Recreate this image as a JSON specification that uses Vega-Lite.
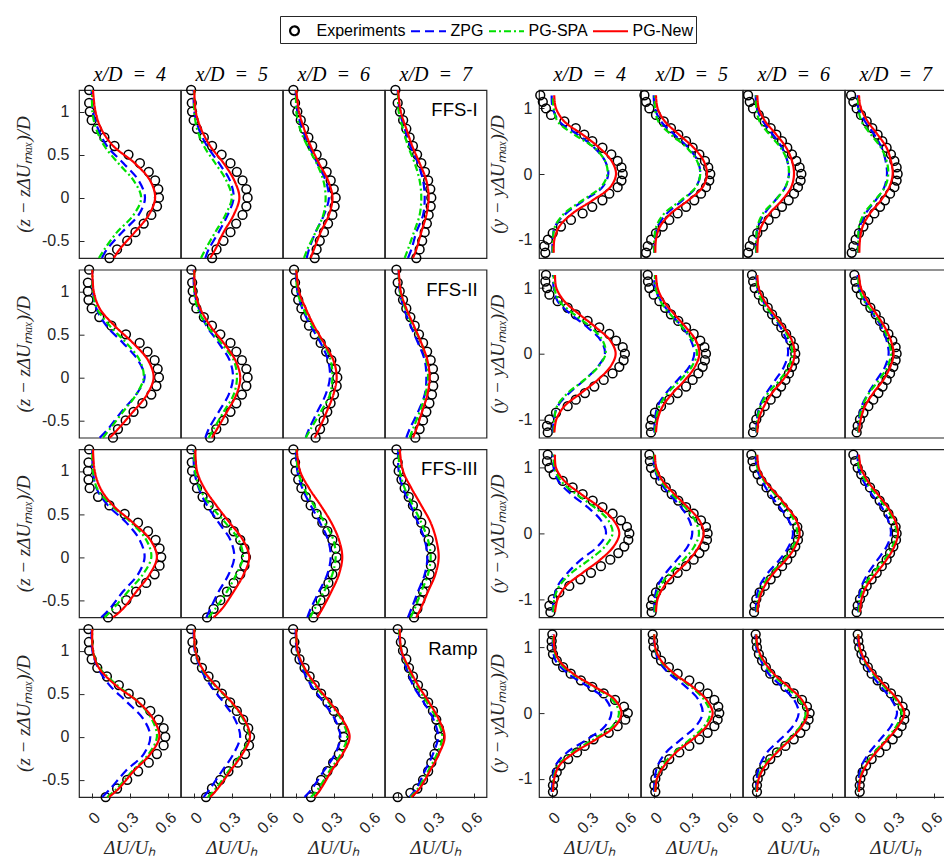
{
"$schema":"https://vega.github.io/schema/vega-lite/v6.json",
"background":"white",
"padding":{"left":14,"top":15,"right":0,"bottom":0},
"config":{
 "font":"Liberation Sans",
 "view":{"stroke":"#262626","strokeWidth":1.2},
 "axis":{"grid":false,"domain":false,"ticks":true,"tickColor":"#262626","tickSize":-5,"tickWidth":1,"labelFont":"Liberation Sans","labelFontSize":16,"labelColor":"#262626","titleFont":"Liberation Serif","titleFontStyle":"italic","titleFontWeight":"normal","titleFontSize":19,"titleColor":"#262626"},
 "axisY":{"labelPadding":15,"titlePadding":5},
 "axisX":{"labelPadding":16,"labelAngle":-45,"titlePadding":2},
 "legend":{"orient":"none","legendX":201,"legendY":-74,"direction":"horizontal","strokeColor":"#262626","padding":3,"fillColor":"white","labelFont":"Liberation Sans","labelFontSize":16,"labelColor":"#000","symbolSize":400,"symbolStrokeWidth":2.2,"labelOffset":10.5,"columnPadding":0}
},
"data":{"values":[
{"b":"L","r":1,"c":7,"lab":"FFS-I"},{"b":"L","r":2,"c":7,"lab":"FFS-II"},{"b":"L","r":3,"c":7,"lab":"FFS-III"},{"b":"L","r":4,"c":7,"lab":"Ramp"},
{"b":"L","r":1,"c":4,"v":1.25,"E":-0.02,"Z":0,"S":0.005,"N":0.01},
{"b":"L","r":1,"c":4,"v":1.1,"E":-0.02},
{"b":"L","r":1,"c":4,"v":1,"E":-0.015,"Z":0.01,"S":0.005,"N":0.03},
{"b":"L","r":1,"c":4,"v":0.9,"E":0},
{"b":"L","r":1,"c":4,"v":0.8,"E":0.04,"Z":0.05,"S":0.035,"N":0.075},
{"b":"L","r":1,"c":4,"v":0.7,"E":0.1},
{"b":"L","r":1,"c":4,"v":0.6,"E":0.18,"Z":0.12,"S":0.1,"N":0.17},
{"b":"L","r":1,"c":4,"v":0.5,"E":0.29},
{"b":"L","r":1,"c":4,"v":0.4,"E":0.38,"Z":0.25,"S":0.21,"N":0.34},
{"b":"L","r":1,"c":4,"v":0.3,"E":0.45},
{"b":"L","r":1,"c":4,"v":0.2,"E":0.5,"Z":0.37,"S":0.33,"N":0.46},
{"b":"L","r":1,"c":4,"v":0.1,"E":0.525},
{"b":"L","r":1,"c":4,"v":0,"E":0.53,"Z":0.42,"S":0.39,"N":0.5},
{"b":"L","r":1,"c":4,"v":-0.1,"E":0.515},
{"b":"L","r":1,"c":4,"v":-0.2,"E":0.47,"Z":0.37,"S":0.33,"N":0.45},
{"b":"L","r":1,"c":4,"v":-0.3,"E":0.41},
{"b":"L","r":1,"c":4,"v":-0.4,"E":0.345,"Z":0.24,"S":0.2,"N":0.34},
{"b":"L","r":1,"c":4,"v":-0.5,"E":0.28},
{"b":"L","r":1,"c":4,"v":-0.6,"E":0.2,"Z":0.12,"S":0.1,"N":0.22},
{"b":"L","r":1,"c":4,"v":-0.7,"E":0.14,"Z":0.08,"S":0.057,"N":0.175},
{"b":"L","r":1,"c":5,"v":1.25,"E":-0.02,"Z":0,"S":0.005,"N":0.005},
{"b":"L","r":1,"c":5,"v":1.1,"E":-0.015},
{"b":"L","r":1,"c":5,"v":1,"E":-0.013,"Z":0.005,"S":0.005,"N":0.016},
{"b":"L","r":1,"c":5,"v":0.9,"E":0},
{"b":"L","r":1,"c":5,"v":0.8,"E":0.026,"Z":0.04,"S":0.026,"N":0.058},
{"b":"L","r":1,"c":5,"v":0.7,"E":0.08},
{"b":"L","r":1,"c":5,"v":0.6,"E":0.145,"Z":0.105,"S":0.08,"N":0.13},
{"b":"L","r":1,"c":5,"v":0.5,"E":0.22},
{"b":"L","r":1,"c":5,"v":0.4,"E":0.29,"Z":0.2,"S":0.17,"N":0.236},
{"b":"L","r":1,"c":5,"v":0.3,"E":0.34},
{"b":"L","r":1,"c":5,"v":0.2,"E":0.385,"Z":0.285,"S":0.257,"N":0.32},
{"b":"L","r":1,"c":5,"v":0.1,"E":0.415},
{"b":"L","r":1,"c":5,"v":0,"E":0.425,"Z":0.315,"S":0.3,"N":0.36},
{"b":"L","r":1,"c":5,"v":-0.1,"E":0.415},
{"b":"L","r":1,"c":5,"v":-0.2,"E":0.385,"Z":0.268,"S":0.25,"N":0.315},
{"b":"L","r":1,"c":5,"v":-0.3,"E":0.335},
{"b":"L","r":1,"c":5,"v":-0.4,"E":0.29,"Z":0.197,"S":0.17,"N":0.236},
{"b":"L","r":1,"c":5,"v":-0.5,"E":0.235},
{"b":"L","r":1,"c":5,"v":-0.6,"E":0.18,"Z":0.118,"S":0.092,"N":0.17},
{"b":"L","r":1,"c":5,"v":-0.7,"E":0.145,"Z":0.092,"S":0.058,"N":0.13},
{"b":"L","r":1,"c":6,"v":1.25,"E":-0.018,"Z":0,"S":0.005,"N":0.005},
{"b":"L","r":1,"c":6,"v":1.1,"E":-0.005},
{"b":"L","r":1,"c":6,"v":1,"E":0.013,"Z":0.013,"S":0.005,"N":0.026},
{"b":"L","r":1,"c":6,"v":0.9,"E":0.04},
{"b":"L","r":1,"c":6,"v":0.8,"E":0.066,"Z":0.052,"S":0.034,"N":0.066},
{"b":"L","r":1,"c":6,"v":0.7,"E":0.1},
{"b":"L","r":1,"c":6,"v":0.6,"E":0.13,"Z":0.105,"S":0.092,"N":0.118},
{"b":"L","r":1,"c":6,"v":0.5,"E":0.165},
{"b":"L","r":1,"c":6,"v":0.4,"E":0.21,"Z":0.17,"S":0.165,"N":0.184},
{"b":"L","r":1,"c":6,"v":0.3,"E":0.244},
{"b":"L","r":1,"c":6,"v":0.2,"E":0.276,"Z":0.236,"S":0.218,"N":0.255},
{"b":"L","r":1,"c":6,"v":0.1,"E":0.3},
{"b":"L","r":1,"c":6,"v":0,"E":0.315,"Z":0.262,"S":0.236,"N":0.29},
{"b":"L","r":1,"c":6,"v":-0.1,"E":0.307},
{"b":"L","r":1,"c":6,"v":-0.2,"E":0.289,"Z":0.223,"S":0.218,"N":0.262},
{"b":"L","r":1,"c":6,"v":-0.3,"E":0.255},
{"b":"L","r":1,"c":6,"v":-0.4,"E":0.223,"Z":0.157,"S":0.157,"N":0.197},
{"b":"L","r":1,"c":6,"v":-0.5,"E":0.19},
{"b":"L","r":1,"c":6,"v":-0.6,"E":0.165,"Z":0.105,"S":0.092,"N":0.144},
{"b":"L","r":1,"c":6,"v":-0.7,"E":0.15,"Z":0.087,"S":0.066,"N":0.118},
{"b":"L","r":1,"c":7,"v":1.25,"E":-0.018,"Z":0,"S":0.003,"N":0.003},
{"b":"L","r":1,"c":7,"v":1.1,"E":0},
{"b":"L","r":1,"c":7,"v":1,"E":0.018,"Z":0.016,"S":0.008,"N":0.024},
{"b":"L","r":1,"c":7,"v":0.9,"E":0.043},
{"b":"L","r":1,"c":7,"v":0.8,"E":0.068,"Z":0.055,"S":0.042,"N":0.068},
{"b":"L","r":1,"c":7,"v":0.7,"E":0.094},
{"b":"L","r":1,"c":7,"v":0.6,"E":0.12,"Z":0.1,"S":0.081,"N":0.115},
{"b":"L","r":1,"c":7,"v":0.5,"E":0.153},
{"b":"L","r":1,"c":7,"v":0.4,"E":0.186,"Z":0.16,"S":0.134,"N":0.173},
{"b":"L","r":1,"c":7,"v":0.3,"E":0.215},
{"b":"L","r":1,"c":7,"v":0.2,"E":0.24,"Z":0.2,"S":0.173,"N":0.226},
{"b":"L","r":1,"c":7,"v":0.1,"E":0.257},
{"b":"L","r":1,"c":7,"v":0,"E":0.265,"Z":0.213,"S":0.186,"N":0.244},
{"b":"L","r":1,"c":7,"v":-0.1,"E":0.26},
{"b":"L","r":1,"c":7,"v":-0.2,"E":0.244,"Z":0.2,"S":0.173,"N":0.226},
{"b":"L","r":1,"c":7,"v":-0.3,"E":0.23},
{"b":"L","r":1,"c":7,"v":-0.4,"E":0.213,"Z":0.147,"S":0.128,"N":0.186},
{"b":"L","r":1,"c":7,"v":-0.5,"E":0.193},
{"b":"L","r":1,"c":7,"v":-0.6,"E":0.173,"Z":0.108,"S":0.081,"N":0.147},
{"b":"L","r":1,"c":7,"v":-0.7,"E":0.147,"Z":0.081,"S":0.055,"N":0.12},
{"b":"L","r":2,"c":4,"v":1.25,"E":-0.02,"Z":0.005,"S":0.005,"N":0.005},
{"b":"L","r":2,"c":4,"v":1.1,"E":-0.03},
{"b":"L","r":2,"c":4,"v":1,"E":-0.03,"Z":0.01,"S":0.01,"N":0.016},
{"b":"L","r":2,"c":4,"v":0.9,"E":-0.025},
{"b":"L","r":2,"c":4,"v":0.8,"E":0,"Z":0.037,"S":0.042,"N":0.063},
{"b":"L","r":2,"c":4,"v":0.7,"E":0.06},
{"b":"L","r":2,"c":4,"v":0.6,"E":0.155,"Z":0.115,"S":0.142,"N":0.18},
{"b":"L","r":2,"c":4,"v":0.5,"E":0.27},
{"b":"L","r":2,"c":4,"v":0.4,"E":0.378,"Z":0.247,"S":0.273,"N":0.325},
{"b":"L","r":2,"c":4,"v":0.3,"E":0.44},
{"b":"L","r":2,"c":4,"v":0.2,"E":0.496,"Z":0.365,"S":0.378,"N":0.444},
{"b":"L","r":2,"c":4,"v":0.1,"E":0.52},
{"b":"L","r":2,"c":4,"v":0,"E":0.53,"Z":0.417,"S":0.41,"N":0.488},
{"b":"L","r":2,"c":4,"v":-0.1,"E":0.51},
{"b":"L","r":2,"c":4,"v":-0.2,"E":0.47,"Z":0.35,"S":0.35,"N":0.436},
{"b":"L","r":2,"c":4,"v":-0.3,"E":0.4},
{"b":"L","r":2,"c":4,"v":-0.4,"E":0.33,"Z":0.234,"S":0.247,"N":0.325},
{"b":"L","r":2,"c":4,"v":-0.5,"E":0.268},
{"b":"L","r":2,"c":4,"v":-0.6,"E":0.207,"Z":0.128,"S":0.142,"N":0.207},
{"b":"L","r":2,"c":4,"v":-0.7,"E":0.168,"Z":0.063,"S":0.089,"N":0.142},
{"b":"L","r":2,"c":5,"v":1.25,"E":-0.018,"Z":0,"S":0.005,"N":0.005},
{"b":"L","r":2,"c":5,"v":1.1,"E":-0.012},
{"b":"L","r":2,"c":5,"v":1,"E":-0.008,"Z":0.005,"S":0.005,"N":0.013},
{"b":"L","r":2,"c":5,"v":0.9,"E":0},
{"b":"L","r":2,"c":5,"v":0.8,"E":0.021,"Z":0.04,"S":0.031,"N":0.052},
{"b":"L","r":2,"c":5,"v":0.7,"E":0.08},
{"b":"L","r":2,"c":5,"v":0.6,"E":0.144,"Z":0.1,"S":0.105,"N":0.13},
{"b":"L","r":2,"c":5,"v":0.5,"E":0.21},
{"b":"L","r":2,"c":5,"v":0.4,"E":0.29,"Z":0.197,"S":0.215,"N":0.236},
{"b":"L","r":2,"c":5,"v":0.3,"E":0.336},
{"b":"L","r":2,"c":5,"v":0.2,"E":0.38,"Z":0.283,"S":0.315,"N":0.328},
{"b":"L","r":2,"c":5,"v":0.1,"E":0.415},
{"b":"L","r":2,"c":5,"v":0,"E":0.425,"Z":0.31,"S":0.341,"N":0.367},
{"b":"L","r":2,"c":5,"v":-0.1,"E":0.415},
{"b":"L","r":2,"c":5,"v":-0.2,"E":0.38,"Z":0.276,"S":0.315,"N":0.336},
{"b":"L","r":2,"c":5,"v":-0.3,"E":0.336},
{"b":"L","r":2,"c":5,"v":-0.4,"E":0.29,"Z":0.197,"S":0.236,"N":0.262},
{"b":"L","r":2,"c":5,"v":-0.5,"E":0.236},
{"b":"L","r":2,"c":5,"v":-0.6,"E":0.178,"Z":0.118,"S":0.157,"N":0.184},
{"b":"L","r":2,"c":5,"v":-0.7,"E":0.13,"Z":0.092,"S":0.118,"N":0.144},
{"b":"L","r":2,"c":6,"v":1.25,"E":-0.013,"Z":0,"S":0.005,"N":0.005},
{"b":"L","r":2,"c":6,"v":1.1,"E":-0.005},
{"b":"L","r":2,"c":6,"v":1,"E":0.003,"Z":0.013,"S":0.013,"N":0.026},
{"b":"L","r":2,"c":6,"v":0.9,"E":0.02},
{"b":"L","r":2,"c":6,"v":0.8,"E":0.045,"Z":0.052,"S":0.06,"N":0.079},
{"b":"L","r":2,"c":6,"v":0.7,"E":0.075},
{"b":"L","r":2,"c":6,"v":0.6,"E":0.105,"Z":0.118,"S":0.131,"N":0.144},
{"b":"L","r":2,"c":6,"v":0.5,"E":0.15},
{"b":"L","r":2,"c":6,"v":0.4,"E":0.197,"Z":0.197,"S":0.218,"N":0.223},
{"b":"L","r":2,"c":6,"v":0.3,"E":0.24},
{"b":"L","r":2,"c":6,"v":0.2,"E":0.281,"Z":0.255,"S":0.276,"N":0.297},
{"b":"L","r":2,"c":6,"v":0.1,"E":0.315},
{"b":"L","r":2,"c":6,"v":0,"E":0.328,"Z":0.27,"S":0.289,"N":0.323},
{"b":"L","r":2,"c":6,"v":-0.1,"E":0.323},
{"b":"L","r":2,"c":6,"v":-0.2,"E":0.302,"Z":0.236,"S":0.27,"N":0.297},
{"b":"L","r":2,"c":6,"v":-0.3,"E":0.275},
{"b":"L","r":2,"c":6,"v":-0.4,"E":0.249,"Z":0.17,"S":0.197,"N":0.244},
{"b":"L","r":2,"c":6,"v":-0.5,"E":0.22},
{"b":"L","r":2,"c":6,"v":-0.6,"E":0.192,"Z":0.105,"S":0.118,"N":0.184},
{"b":"L","r":2,"c":6,"v":-0.7,"E":0.157,"Z":0.079,"S":0.079,"N":0.15},
{"b":"L","r":2,"c":7,"v":1.25,"E":-0.01,"Z":0.008,"S":0.008,"N":0.008},
{"b":"L","r":2,"c":7,"v":1.1,"E":0},
{"b":"L","r":2,"c":7,"v":1,"E":0.016,"Z":0.016,"S":0.018,"N":0.024},
{"b":"L","r":2,"c":7,"v":0.9,"E":0.042},
{"b":"L","r":2,"c":7,"v":0.8,"E":0.068,"Z":0.05,"S":0.06,"N":0.068},
{"b":"L","r":2,"c":7,"v":0.7,"E":0.1},
{"b":"L","r":2,"c":7,"v":0.6,"E":0.134,"Z":0.102,"S":0.12,"N":0.128},
{"b":"L","r":2,"c":7,"v":0.5,"E":0.168},
{"b":"L","r":2,"c":7,"v":0.4,"E":0.2,"Z":0.16,"S":0.186,"N":0.186},
{"b":"L","r":2,"c":7,"v":0.3,"E":0.232},
{"b":"L","r":2,"c":7,"v":0.2,"E":0.26,"Z":0.213,"S":0.226,"N":0.234},
{"b":"L","r":2,"c":7,"v":0.1,"E":0.278},
{"b":"L","r":2,"c":7,"v":0,"E":0.286,"Z":0.226,"S":0.239,"N":0.252},
{"b":"L","r":2,"c":7,"v":-0.1,"E":0.28},
{"b":"L","r":2,"c":7,"v":-0.2,"E":0.27,"Z":0.213,"S":0.218,"N":0.234},
{"b":"L","r":2,"c":7,"v":-0.3,"E":0.25},
{"b":"L","r":2,"c":7,"v":-0.4,"E":0.226,"Z":0.16,"S":0.173,"N":0.192},
{"b":"L","r":2,"c":7,"v":-0.5,"E":0.2},
{"b":"L","r":2,"c":7,"v":-0.6,"E":0.173,"Z":0.094,"S":0.12,"N":0.147},
{"b":"L","r":2,"c":7,"v":-0.7,"E":0.139,"Z":0.068,"S":0.094,"N":0.12},
{"b":"L","r":3,"c":4,"v":1.25,"E":-0.02,"Z":0.005,"S":0.005,"N":0.01},
{"b":"L","r":3,"c":4,"v":1.1,"E":-0.025},
{"b":"L","r":3,"c":4,"v":1,"E":-0.03,"Z":0.01,"S":0.01,"N":0.024},
{"b":"L","r":3,"c":4,"v":0.9,"E":-0.025},
{"b":"L","r":3,"c":4,"v":0.8,"E":-0.016,"Z":0.037,"S":0.042,"N":0.068},
{"b":"L","r":3,"c":4,"v":0.7,"E":0.05},
{"b":"L","r":3,"c":4,"v":0.6,"E":0.14,"Z":0.128,"S":0.155,"N":0.168},
{"b":"L","r":3,"c":4,"v":0.5,"E":0.26},
{"b":"L","r":3,"c":4,"v":0.4,"E":0.365,"Z":0.273,"S":0.312,"N":0.325},
{"b":"L","r":3,"c":4,"v":0.3,"E":0.444},
{"b":"L","r":3,"c":4,"v":0.2,"E":0.504,"Z":0.378,"S":0.43,"N":0.462},
{"b":"L","r":3,"c":4,"v":0.1,"E":0.535},
{"b":"L","r":3,"c":4,"v":0,"E":0.548,"Z":0.417,"S":0.47,"N":0.514},
{"b":"L","r":3,"c":4,"v":-0.1,"E":0.535},
{"b":"L","r":3,"c":4,"v":-0.2,"E":0.496,"Z":0.365,"S":0.404,"N":0.457},
{"b":"L","r":3,"c":4,"v":-0.3,"E":0.43},
{"b":"L","r":3,"c":4,"v":-0.4,"E":0.35,"Z":0.247,"S":0.286,"N":0.352},
{"b":"L","r":3,"c":4,"v":-0.5,"E":0.273},
{"b":"L","r":3,"c":4,"v":-0.6,"E":0.194,"Z":0.142,"S":0.168,"N":0.247},
{"b":"L","r":3,"c":4,"v":-0.7,"E":0.129,"Z":0.076,"S":0.102,"N":0.168},
{"b":"L","r":3,"c":5,"v":1.25,"E":-0.018,"Z":0,"S":0.005,"N":0.013},
{"b":"L","r":3,"c":5,"v":1.1,"E":-0.015},
{"b":"L","r":3,"c":5,"v":1,"E":-0.013,"Z":0.005,"S":0.01,"N":0.026},
{"b":"L","r":3,"c":5,"v":0.9,"E":0.005},
{"b":"L","r":3,"c":5,"v":0.8,"E":0.026,"Z":0.04,"S":0.047,"N":0.084},
{"b":"L","r":3,"c":5,"v":0.7,"E":0.07},
{"b":"L","r":3,"c":5,"v":0.6,"E":0.118,"Z":0.105,"S":0.131,"N":0.178},
{"b":"L","r":3,"c":5,"v":0.5,"E":0.184},
{"b":"L","r":3,"c":5,"v":0.4,"E":0.257,"Z":0.197,"S":0.249,"N":0.283},
{"b":"L","r":3,"c":5,"v":0.3,"E":0.315},
{"b":"L","r":3,"c":5,"v":0.2,"E":0.367,"Z":0.289,"S":0.354,"N":0.388},
{"b":"L","r":3,"c":5,"v":0.1,"E":0.4},
{"b":"L","r":3,"c":5,"v":0,"E":0.412,"Z":0.32,"S":0.388,"N":0.438},
{"b":"L","r":3,"c":5,"v":-0.1,"E":0.4},
{"b":"L","r":3,"c":5,"v":-0.2,"E":0.367,"Z":0.276,"S":0.336,"N":0.394},
{"b":"L","r":3,"c":5,"v":-0.3,"E":0.315},
{"b":"L","r":3,"c":5,"v":-0.4,"E":0.262,"Z":0.197,"S":0.262,"N":0.315},
{"b":"L","r":3,"c":5,"v":-0.5,"E":0.21},
{"b":"L","r":3,"c":5,"v":-0.6,"E":0.157,"Z":0.131,"S":0.17,"N":0.223},
{"b":"L","r":3,"c":5,"v":-0.7,"E":0.105,"Z":0.1,"S":0.118,"N":0.157},
{"b":"L","r":3,"c":6,"v":1.25,"E":-0.018,"Z":0,"S":0.005,"N":0.008},
{"b":"L","r":3,"c":6,"v":1.1,"E":-0.005},
{"b":"L","r":3,"c":6,"v":1,"E":0,"Z":0.013,"S":0.018,"N":0.034},
{"b":"L","r":3,"c":6,"v":0.9,"E":0.02},
{"b":"L","r":3,"c":6,"v":0.8,"E":0.045,"Z":0.052,"S":0.066,"N":0.105},
{"b":"L","r":3,"c":6,"v":0.7,"E":0.08},
{"b":"L","r":3,"c":6,"v":0.6,"E":0.118,"Z":0.118,"S":0.144,"N":0.197},
{"b":"L","r":3,"c":6,"v":0.5,"E":0.165},
{"b":"L","r":3,"c":6,"v":0.4,"E":0.21,"Z":0.192,"S":0.228,"N":0.281},
{"b":"L","r":3,"c":6,"v":0.3,"E":0.25},
{"b":"L","r":3,"c":6,"v":0.2,"E":0.289,"Z":0.255,"S":0.297,"N":0.341},
{"b":"L","r":3,"c":6,"v":0.1,"E":0.315},
{"b":"L","r":3,"c":6,"v":0,"E":0.323,"Z":0.276,"S":0.315,"N":0.367},
{"b":"L","r":3,"c":6,"v":-0.1,"E":0.315},
{"b":"L","r":3,"c":6,"v":-0.2,"E":0.289,"Z":0.249,"S":0.289,"N":0.341},
{"b":"L","r":3,"c":6,"v":-0.3,"E":0.258},
{"b":"L","r":3,"c":6,"v":-0.4,"E":0.228,"Z":0.184,"S":0.223,"N":0.281},
{"b":"L","r":3,"c":6,"v":-0.5,"E":0.196},
{"b":"L","r":3,"c":6,"v":-0.6,"E":0.165,"Z":0.118,"S":0.15,"N":0.21},
{"b":"L","r":3,"c":6,"v":-0.7,"E":0.139,"Z":0.092,"S":0.113,"N":0.17},
{"b":"L","r":3,"c":7,"v":1.25,"E":-0.01,"Z":0.003,"S":0.008,"N":0.016},
{"b":"L","r":3,"c":7,"v":1.1,"E":0},
{"b":"L","r":3,"c":7,"v":1,"E":0.008,"Z":0.008,"S":0.016,"N":0.042},
{"b":"L","r":3,"c":7,"v":0.9,"E":0.03},
{"b":"L","r":3,"c":7,"v":0.8,"E":0.055,"Z":0.042,"S":0.055,"N":0.108},
{"b":"L","r":3,"c":7,"v":0.7,"E":0.087},
{"b":"L","r":3,"c":7,"v":0.6,"E":0.12,"Z":0.102,"S":0.12,"N":0.186},
{"b":"L","r":3,"c":7,"v":0.5,"E":0.153},
{"b":"L","r":3,"c":7,"v":0.4,"E":0.186,"Z":0.16,"S":0.186,"N":0.26},
{"b":"L","r":3,"c":7,"v":0.3,"E":0.215},
{"b":"L","r":3,"c":7,"v":0.2,"E":0.244,"Z":0.213,"S":0.239,"N":0.304},
{"b":"L","r":3,"c":7,"v":0.1,"E":0.26},
{"b":"L","r":3,"c":7,"v":0,"E":0.265,"Z":0.234,"S":0.26,"N":0.323},
{"b":"L","r":3,"c":7,"v":-0.1,"E":0.262},
{"b":"L","r":3,"c":7,"v":-0.2,"E":0.252,"Z":0.213,"S":0.239,"N":0.297},
{"b":"L","r":3,"c":7,"v":-0.3,"E":0.228},
{"b":"L","r":3,"c":7,"v":-0.4,"E":0.2,"Z":0.16,"S":0.186,"N":0.239},
{"b":"L","r":3,"c":7,"v":-0.5,"E":0.178},
{"b":"L","r":3,"c":7,"v":-0.6,"E":0.155,"Z":0.108,"S":0.134,"N":0.181},
{"b":"L","r":3,"c":7,"v":-0.7,"E":0.129,"Z":0.081,"S":0.102,"N":0.147},
{"b":"L","r":4,"c":4,"v":1.25,"E":-0.026,"Z":0,"S":0.005,"N":0.005},
{"b":"L","r":4,"c":4,"v":1.1,"E":-0.022},
{"b":"L","r":4,"c":4,"v":1,"E":-0.02,"Z":0.005,"S":0.01,"N":0.01},
{"b":"L","r":4,"c":4,"v":0.9,"E":0},
{"b":"L","r":4,"c":4,"v":0.8,"E":0.044,"Z":0.05,"S":0.063,"N":0.057},
{"b":"L","r":4,"c":4,"v":0.7,"E":0.12},
{"b":"L","r":4,"c":4,"v":0.6,"E":0.214,"Z":0.14,"S":0.2,"N":0.188},
{"b":"L","r":4,"c":4,"v":0.5,"E":0.292},
{"b":"L","r":4,"c":4,"v":0.4,"E":0.384,"Z":0.28,"S":0.37,"N":0.37},
{"b":"L","r":4,"c":4,"v":0.3,"E":0.462},
{"b":"L","r":4,"c":4,"v":0.2,"E":0.527,"Z":0.41,"S":0.475,"N":0.488},
{"b":"L","r":4,"c":4,"v":0.1,"E":0.567},
{"b":"L","r":4,"c":4,"v":0,"E":0.58,"Z":0.462,"S":0.514,"N":0.533},
{"b":"L","r":4,"c":4,"v":-0.1,"E":0.567},
{"b":"L","r":4,"c":4,"v":-0.2,"E":0.514,"Z":0.41,"S":0.449,"N":0.462},
{"b":"L","r":4,"c":4,"v":-0.3,"E":0.45},
{"b":"L","r":4,"c":4,"v":-0.4,"E":0.366,"Z":0.266,"S":0.318,"N":0.33},
{"b":"L","r":4,"c":4,"v":-0.5,"E":0.28},
{"b":"L","r":4,"c":4,"v":-0.6,"E":0.2,"Z":0.149,"S":0.2,"N":0.214},
{"b":"L","r":4,"c":4,"v":-0.7,"E":0.11,"Z":0.084,"S":0.123,"N":0.136},
{"b":"L","r":4,"c":5,"v":1.25,"E":-0.02,"Z":0,"S":0.005,"N":0.005},
{"b":"L","r":4,"c":5,"v":1.1,"E":-0.01},
{"b":"L","r":4,"c":5,"v":1,"E":-0.005,"Z":0.008,"S":0.013,"N":0.013},
{"b":"L","r":4,"c":5,"v":0.9,"E":0.013},
{"b":"L","r":4,"c":5,"v":0.8,"E":0.065,"Z":0.052,"S":0.06,"N":0.065},
{"b":"L","r":4,"c":5,"v":0.7,"E":0.117},
{"b":"L","r":4,"c":5,"v":0.6,"E":0.17,"Z":0.13,"S":0.164,"N":0.17},
{"b":"L","r":4,"c":5,"v":0.5,"E":0.222},
{"b":"L","r":4,"c":5,"v":0.4,"E":0.287,"Z":0.235,"S":0.295,"N":0.3},
{"b":"L","r":4,"c":5,"v":0.3,"E":0.34},
{"b":"L","r":4,"c":5,"v":0.2,"E":0.39,"Z":0.326,"S":0.392,"N":0.4},
{"b":"L","r":4,"c":5,"v":0.1,"E":0.43},
{"b":"L","r":4,"c":5,"v":0,"E":0.444,"Z":0.366,"S":0.436,"N":0.444},
{"b":"L","r":4,"c":5,"v":-0.1,"E":0.436},
{"b":"L","r":4,"c":5,"v":-0.2,"E":0.405,"Z":0.313,"S":0.373,"N":0.384},
{"b":"L","r":4,"c":5,"v":-0.3,"E":0.347},
{"b":"L","r":4,"c":5,"v":-0.4,"E":0.274,"Z":0.222,"S":0.274,"N":0.287},
{"b":"L","r":4,"c":5,"v":-0.5,"E":0.209},
{"b":"L","r":4,"c":5,"v":-0.6,"E":0.144,"Z":0.13,"S":0.175,"N":0.19},
{"b":"L","r":4,"c":5,"v":-0.7,"E":0.097,"Z":0.078,"S":0.112,"N":0.13},
{"b":"L","r":4,"c":6,"v":1.25,"E":-0.02,"Z":0,"S":0.005,"N":0.005},
{"b":"L","r":4,"c":6,"v":1.1,"E":-0.01},
{"b":"L","r":4,"c":6,"v":1,"E":0,"Z":0.008,"S":0.012,"N":0.015},
{"b":"L","r":4,"c":6,"v":0.9,"E":0.03},
{"b":"L","r":4,"c":6,"v":0.8,"E":0.07,"Z":0.05,"S":0.065,"N":0.07},
{"b":"L","r":4,"c":6,"v":0.7,"E":0.11},
{"b":"L","r":4,"c":6,"v":0.6,"E":0.15,"Z":0.12,"S":0.15,"N":0.16},
{"b":"L","r":4,"c":6,"v":0.5,"E":0.2},
{"b":"L","r":4,"c":6,"v":0.4,"E":0.25,"Z":0.22,"S":0.26,"N":0.27},
{"b":"L","r":4,"c":6,"v":0.3,"E":0.3},
{"b":"L","r":4,"c":6,"v":0.2,"E":0.34,"Z":0.31,"S":0.36,"N":0.37},
{"b":"L","r":4,"c":6,"v":0.1,"E":0.37},
{"b":"L","r":4,"c":6,"v":0,"E":0.378,"Z":0.352,"S":0.405,"N":0.425},
{"b":"L","r":4,"c":6,"v":-0.1,"E":0.37},
{"b":"L","r":4,"c":6,"v":-0.2,"E":0.34,"Z":0.31,"S":0.355,"N":0.37},
{"b":"L","r":4,"c":6,"v":-0.3,"E":0.295},
{"b":"L","r":4,"c":6,"v":-0.4,"E":0.25,"Z":0.22,"S":0.265,"N":0.28},
{"b":"L","r":4,"c":6,"v":-0.5,"E":0.2},
{"b":"L","r":4,"c":6,"v":-0.6,"E":0.16,"Z":0.13,"S":0.18,"N":0.2},
{"b":"L","r":4,"c":6,"v":-0.7,"E":0.12,"Z":0.07,"S":0.12,"N":0.15},
{"b":"L","r":4,"c":7,"v":1.25,"E":0,"Z":0.005,"S":0.01,"N":0.016},
{"b":"L","r":4,"c":7,"v":1.1,"E":0.025},
{"b":"L","r":4,"c":7,"v":1,"E":0.042,"Z":0.028,"S":0.03,"N":0.03},
{"b":"L","r":4,"c":7,"v":0.9,"E":0.068},
{"b":"L","r":4,"c":7,"v":0.8,"E":0.089,"Z":0.068,"S":0.081,"N":0.089},
{"b":"L","r":4,"c":7,"v":0.7,"E":0.12},
{"b":"L","r":4,"c":7,"v":0.6,"E":0.16,"Z":0.12,"S":0.147,"N":0.16},
{"b":"L","r":4,"c":7,"v":0.5,"E":0.2},
{"b":"L","r":4,"c":7,"v":0.4,"E":0.24,"Z":0.205,"S":0.231,"N":0.247},
{"b":"L","r":4,"c":7,"v":0.3,"E":0.278},
{"b":"L","r":4,"c":7,"v":0.2,"E":0.304,"Z":0.283,"S":0.31,"N":0.325},
{"b":"L","r":4,"c":7,"v":0.1,"E":0.325},
{"b":"L","r":4,"c":7,"v":0,"E":0.33,"Z":0.318,"S":0.352,"N":0.37},
{"b":"L","r":4,"c":7,"v":-0.1,"E":0.318},
{"b":"L","r":4,"c":7,"v":-0.2,"E":0.29,"Z":0.278,"S":0.31,"N":0.325},
{"b":"L","r":4,"c":7,"v":-0.3,"E":0.265},
{"b":"L","r":4,"c":7,"v":-0.4,"E":0.24,"Z":0.213,"S":0.239,"N":0.252},
{"b":"L","r":4,"c":7,"v":-0.5,"E":0.2},
{"b":"L","r":4,"c":7,"v":-0.6,"E":0.155,"Z":0.147,"S":0.16,"N":0.173},
{"b":"L","r":4,"c":7,"v":-0.65,"E":0.1},
{"b":"L","r":4,"c":7,"v":-0.7,"E":0,"Z":0.094,"S":0.1,"N":0.108},
{"b":"R","r":1,"c":4,"v":1.2,"E":-0.09,"Z":0,"S":0.008,"N":0.02},
{"b":"R","r":1,"c":4,"v":1.1,"E":-0.07},
{"b":"R","r":1,"c":4,"v":1,"E":-0.045,"Z":0.008,"S":0.016,"N":0.034},
{"b":"R","r":1,"c":4,"v":0.9,"E":-0.005},
{"b":"R","r":1,"c":4,"v":0.8,"E":0.1,"Z":0.06,"S":0.047,"N":0.1},
{"b":"R","r":1,"c":4,"v":0.7,"E":0.19},
{"b":"R","r":1,"c":4,"v":0.6,"E":0.257,"Z":0.205,"S":0.178,"N":0.244},
{"b":"R","r":1,"c":4,"v":0.5,"E":0.32},
{"b":"R","r":1,"c":4,"v":0.4,"E":0.4,"Z":0.336,"S":0.336,"N":0.375},
{"b":"R","r":1,"c":4,"v":0.3,"E":0.47},
{"b":"R","r":1,"c":4,"v":0.2,"E":0.52,"Z":0.42,"S":0.42,"N":0.472},
{"b":"R","r":1,"c":4,"v":0.1,"E":0.55},
{"b":"R","r":1,"c":4,"v":0,"E":0.56,"Z":0.446,"S":0.44,"N":0.507},
{"b":"R","r":1,"c":4,"v":-0.1,"E":0.55},
{"b":"R","r":1,"c":4,"v":-0.2,"E":0.52,"Z":0.4,"S":0.388,"N":0.462},
{"b":"R","r":1,"c":4,"v":-0.3,"E":0.454},
{"b":"R","r":1,"c":4,"v":-0.4,"E":0.4,"Z":0.257,"S":0.244,"N":0.323},
{"b":"R","r":1,"c":4,"v":-0.5,"E":0.32},
{"b":"R","r":1,"c":4,"v":-0.6,"E":0.244,"Z":0.113,"S":0.1,"N":0.165},
{"b":"R","r":1,"c":4,"v":-0.7,"E":0.152},
{"b":"R","r":1,"c":4,"v":-0.8,"E":0.073,"Z":0.026,"S":0.026,"N":0.06},
{"b":"R","r":1,"c":4,"v":-0.9,"E":0.008},
{"b":"R","r":1,"c":4,"v":-1,"E":-0.03,"Z":0.008,"S":0.01,"N":0.021},
{"b":"R","r":1,"c":4,"v":-1.1,"E":-0.058},
{"b":"R","r":1,"c":4,"v":-1.2,"E":-0.05,"Z":0.005,"S":0.008,"N":0.016},
{"b":"R","r":1,"c":5,"v":1.2,"E":-0.073,"Z":0,"S":0.01,"N":0.018},
{"b":"R","r":1,"c":5,"v":1.1,"E":-0.06},
{"b":"R","r":1,"c":5,"v":1,"E":-0.034,"Z":0.01,"S":0.01,"N":0.031},
{"b":"R","r":1,"c":5,"v":0.9,"E":0.018},
{"b":"R","r":1,"c":5,"v":0.8,"E":0.079,"Z":0.058,"S":0.037,"N":0.089},
{"b":"R","r":1,"c":5,"v":0.7,"E":0.136},
{"b":"R","r":1,"c":5,"v":0.6,"E":0.194,"Z":0.163,"S":0.136,"N":0.2},
{"b":"R","r":1,"c":5,"v":0.5,"E":0.255},
{"b":"R","r":1,"c":5,"v":0.4,"E":0.307,"Z":0.273,"S":0.262,"N":0.315},
{"b":"R","r":1,"c":5,"v":0.3,"E":0.36},
{"b":"R","r":1,"c":5,"v":0.2,"E":0.404,"Z":0.346,"S":0.341,"N":0.394},
{"b":"R","r":1,"c":5,"v":0.1,"E":0.43},
{"b":"R","r":1,"c":5,"v":0,"E":0.446,"Z":0.367,"S":0.367,"N":0.42},
{"b":"R","r":1,"c":5,"v":-0.1,"E":0.438},
{"b":"R","r":1,"c":5,"v":-0.2,"E":0.412,"Z":0.333,"S":0.333,"N":0.386},
{"b":"R","r":1,"c":5,"v":-0.3,"E":0.373},
{"b":"R","r":1,"c":5,"v":-0.4,"E":0.32,"Z":0.228,"S":0.215,"N":0.273},
{"b":"R","r":1,"c":5,"v":-0.5,"E":0.255},
{"b":"R","r":1,"c":5,"v":-0.6,"E":0.189,"Z":0.105,"S":0.084,"N":0.136},
{"b":"R","r":1,"c":5,"v":-0.7,"E":0.123},
{"b":"R","r":1,"c":5,"v":-0.8,"E":0.071,"Z":0.031,"S":0.021,"N":0.05},
{"b":"R","r":1,"c":5,"v":-0.9,"E":0.018},
{"b":"R","r":1,"c":5,"v":-1,"E":-0.02,"Z":0.01,"S":0.005,"N":0.018},
{"b":"R","r":1,"c":5,"v":-1.1,"E":-0.047},
{"b":"R","r":1,"c":5,"v":-1.2,"E":-0.06,"Z":0.005,"S":0.005,"N":0.013},
{"b":"R","r":1,"c":6,"v":1.2,"E":-0.06,"Z":0,"S":0.005,"N":0.013},
{"b":"R","r":1,"c":6,"v":1.1,"E":-0.047},
{"b":"R","r":1,"c":6,"v":1,"E":-0.021,"Z":0.01,"S":0.005,"N":0.024},
{"b":"R","r":1,"c":6,"v":0.9,"E":0.024},
{"b":"R","r":1,"c":6,"v":0.8,"E":0.071,"Z":0.058,"S":0.031,"N":0.076},
{"b":"R","r":1,"c":6,"v":0.7,"E":0.118},
{"b":"R","r":1,"c":6,"v":0.6,"E":0.163,"Z":0.136,"S":0.11,"N":0.163},
{"b":"R","r":1,"c":6,"v":0.5,"E":0.207},
{"b":"R","r":1,"c":6,"v":0.4,"E":0.249,"Z":0.207,"S":0.197,"N":0.241},
{"b":"R","r":1,"c":6,"v":0.3,"E":0.286},
{"b":"R","r":1,"c":6,"v":0.2,"E":0.32,"Z":0.249,"S":0.249,"N":0.286},
{"b":"R","r":1,"c":6,"v":0.1,"E":0.346},
{"b":"R","r":1,"c":6,"v":0,"E":0.36,"Z":0.262,"S":0.262,"N":0.302},
{"b":"R","r":1,"c":6,"v":-0.1,"E":0.354},
{"b":"R","r":1,"c":6,"v":-0.2,"E":0.333,"Z":0.234,"S":0.234,"N":0.28},
{"b":"R","r":1,"c":6,"v":-0.3,"E":0.302},
{"b":"R","r":1,"c":6,"v":-0.4,"E":0.26,"Z":0.155,"S":0.155,"N":0.207},
{"b":"R","r":1,"c":6,"v":-0.5,"E":0.207},
{"b":"R","r":1,"c":6,"v":-0.6,"E":0.155,"Z":0.071,"S":0.058,"N":0.11},
{"b":"R","r":1,"c":6,"v":-0.7,"E":0.102},
{"b":"R","r":1,"c":6,"v":-0.8,"E":0.058,"Z":0.018,"S":0.013,"N":0.045},
{"b":"R","r":1,"c":6,"v":-0.9,"E":0.013},
{"b":"R","r":1,"c":6,"v":-1,"E":-0.021,"Z":0.005,"S":0.005,"N":0.018},
{"b":"R","r":1,"c":6,"v":-1.1,"E":-0.047},
{"b":"R","r":1,"c":6,"v":-1.2,"E":-0.06,"Z":0.003,"S":0.005,"N":0.013},
{"b":"R","r":1,"c":7,"v":1.2,"E":-0.052,"Z":0,"S":0.005,"N":0.01},
{"b":"R","r":1,"c":7,"v":1.1,"E":-0.034},
{"b":"R","r":1,"c":7,"v":1,"E":-0.008,"Z":0.005,"S":0.005,"N":0.026},
{"b":"R","r":1,"c":7,"v":0.9,"E":0.026},
{"b":"R","r":1,"c":7,"v":0.8,"E":0.071,"Z":0.058,"S":0.031,"N":0.079},
{"b":"R","r":1,"c":7,"v":0.7,"E":0.115},
{"b":"R","r":1,"c":7,"v":0.6,"E":0.157,"Z":0.131,"S":0.105,"N":0.157},
{"b":"R","r":1,"c":7,"v":0.5,"E":0.194},
{"b":"R","r":1,"c":7,"v":0.4,"E":0.228,"Z":0.189,"S":0.184,"N":0.228},
{"b":"R","r":1,"c":7,"v":0.3,"E":0.262},
{"b":"R","r":1,"c":7,"v":0.2,"E":0.289,"Z":0.22,"S":0.228,"N":0.262},
{"b":"R","r":1,"c":7,"v":0.1,"E":0.307},
{"b":"R","r":1,"c":7,"v":0,"E":0.315,"Z":0.231,"S":0.241,"N":0.276},
{"b":"R","r":1,"c":7,"v":-0.1,"E":0.307},
{"b":"R","r":1,"c":7,"v":-0.2,"E":0.289,"Z":0.21,"S":0.215,"N":0.249},
{"b":"R","r":1,"c":7,"v":-0.3,"E":0.255},
{"b":"R","r":1,"c":7,"v":-0.4,"E":0.215,"Z":0.142,"S":0.136,"N":0.184},
{"b":"R","r":1,"c":7,"v":-0.5,"E":0.176},
{"b":"R","r":1,"c":7,"v":-0.6,"E":0.131,"Z":0.063,"S":0.052,"N":0.097},
{"b":"R","r":1,"c":7,"v":-0.7,"E":0.084},
{"b":"R","r":1,"c":7,"v":-0.8,"E":0.045,"Z":0.018,"S":0.01,"N":0.039},
{"b":"R","r":1,"c":7,"v":-0.9,"E":0.01},
{"b":"R","r":1,"c":7,"v":-1,"E":-0.016,"Z":0.005,"S":0.005,"N":0.018},
{"b":"R","r":1,"c":7,"v":-1.1,"E":-0.034},
{"b":"R","r":1,"c":7,"v":-1.2,"E":-0.047,"Z":0.003,"S":0.005,"N":0.013},
{"b":"R","r":2,"c":4,"v":1.2,"E":-0.045,"Z":0.01,"S":0.016,"N":0.026},
{"b":"R","r":2,"c":4,"v":1.1,"E":-0.05},
{"b":"R","r":2,"c":4,"v":1,"E":-0.037,"Z":0.016,"S":0.021,"N":0.037},
{"b":"R","r":2,"c":4,"v":0.9,"E":-0.018},
{"b":"R","r":2,"c":4,"v":0.8,"E":0.047,"Z":0.047,"S":0.06,"N":0.1},
{"b":"R","r":2,"c":4,"v":0.7,"E":0.126},
{"b":"R","r":2,"c":4,"v":0.6,"E":0.19,"Z":0.152,"S":0.178,"N":0.218},
{"b":"R","r":2,"c":4,"v":0.5,"E":0.283},
{"b":"R","r":2,"c":4,"v":0.4,"E":0.375,"Z":0.283,"S":0.31,"N":0.349},
{"b":"R","r":2,"c":4,"v":0.3,"E":0.454},
{"b":"R","r":2,"c":4,"v":0.2,"E":0.507,"Z":0.388,"S":0.402,"N":0.462},
{"b":"R","r":2,"c":4,"v":0.1,"E":0.56},
{"b":"R","r":2,"c":4,"v":0,"E":0.577,"Z":0.42,"S":0.425,"N":0.504},
{"b":"R","r":2,"c":4,"v":-0.1,"E":0.567},
{"b":"R","r":2,"c":4,"v":-0.2,"E":0.533,"Z":0.362,"S":0.367,"N":0.462},
{"b":"R","r":2,"c":4,"v":-0.3,"E":0.48},
{"b":"R","r":2,"c":4,"v":-0.4,"E":0.41,"Z":0.257,"S":0.257,"N":0.362},
{"b":"R","r":2,"c":4,"v":-0.5,"E":0.336},
{"b":"R","r":2,"c":4,"v":-0.6,"E":0.262,"Z":0.139,"S":0.126,"N":0.231},
{"b":"R","r":2,"c":4,"v":-0.7,"E":0.19},
{"b":"R","r":2,"c":4,"v":-0.8,"E":0.126,"Z":0.047,"S":0.042,"N":0.1},
{"b":"R","r":2,"c":4,"v":-0.9,"E":0.034},
{"b":"R","r":2,"c":4,"v":-1,"E":-0.018,"Z":0.016,"S":0.021,"N":0.037},
{"b":"R","r":2,"c":4,"v":-1.1,"E":-0.037},
{"b":"R","r":2,"c":4,"v":-1.2,"E":-0.031,"Z":0.01,"S":0.016,"N":0.021},
{"b":"R","r":2,"c":5,"v":1.2,"E":-0.047,"Z":0.005,"S":0.01,"N":0.018},
{"b":"R","r":2,"c":5,"v":1.1,"E":-0.045},
{"b":"R","r":2,"c":5,"v":1,"E":-0.034,"Z":0.01,"S":0.016,"N":0.031},
{"b":"R","r":2,"c":5,"v":0.9,"E":0},
{"b":"R","r":2,"c":5,"v":0.8,"E":0.045,"Z":0.058,"S":0.052,"N":0.079},
{"b":"R","r":2,"c":5,"v":0.7,"E":0.09},
{"b":"R","r":2,"c":5,"v":0.6,"E":0.136,"Z":0.136,"S":0.131,"N":0.163},
{"b":"R","r":2,"c":5,"v":0.5,"E":0.194},
{"b":"R","r":2,"c":5,"v":0.4,"E":0.255,"Z":0.228,"S":0.228,"N":0.255},
{"b":"R","r":2,"c":5,"v":0.3,"E":0.315},
{"b":"R","r":2,"c":5,"v":0.2,"E":0.367,"Z":0.294,"S":0.307,"N":0.333},
{"b":"R","r":2,"c":5,"v":0.1,"E":0.4},
{"b":"R","r":2,"c":5,"v":0,"E":0.412,"Z":0.32,"S":0.341,"N":0.36},
{"b":"R","r":2,"c":5,"v":-0.1,"E":0.404},
{"b":"R","r":2,"c":5,"v":-0.2,"E":0.386,"Z":0.28,"S":0.299,"N":0.325},
{"b":"R","r":2,"c":5,"v":-0.3,"E":0.352},
{"b":"R","r":2,"c":5,"v":-0.4,"E":0.307,"Z":0.189,"S":0.21,"N":0.247},
{"b":"R","r":2,"c":5,"v":-0.5,"E":0.255},
{"b":"R","r":2,"c":5,"v":-0.6,"E":0.189,"Z":0.097,"S":0.11,"N":0.15},
{"b":"R","r":2,"c":5,"v":-0.7,"E":0.123},
{"b":"R","r":2,"c":5,"v":-0.8,"E":0.058,"Z":0.031,"S":0.045,"N":0.071},
{"b":"R","r":2,"c":5,"v":-0.9,"E":0.01},
{"b":"R","r":2,"c":5,"v":-1,"E":-0.016,"Z":0.01,"S":0.018,"N":0.031},
{"b":"R","r":2,"c":5,"v":-1.1,"E":-0.026},
{"b":"R","r":2,"c":5,"v":-1.2,"E":-0.021,"Z":0.005,"S":0.01,"N":0.018},
{"b":"R","r":2,"c":6,"v":1.2,"E":-0.029,"Z":0.005,"S":0.008,"N":0.013},
{"b":"R","r":2,"c":6,"v":1.1,"E":-0.02},
{"b":"R","r":2,"c":6,"v":1,"E":-0.008,"Z":0.013,"S":0.013,"N":0.024},
{"b":"R","r":2,"c":6,"v":0.9,"E":0.025},
{"b":"R","r":2,"c":6,"v":0.8,"E":0.058,"Z":0.058,"S":0.05,"N":0.071},
{"b":"R","r":2,"c":6,"v":0.7,"E":0.095},
{"b":"R","r":2,"c":6,"v":0.6,"E":0.129,"Z":0.123,"S":0.129,"N":0.144},
{"b":"R","r":2,"c":6,"v":0.5,"E":0.165},
{"b":"R","r":2,"c":6,"v":0.4,"E":0.202,"Z":0.197,"S":0.215,"N":0.223},
{"b":"R","r":2,"c":6,"v":0.3,"E":0.24},
{"b":"R","r":2,"c":6,"v":0.2,"E":0.276,"Z":0.241,"S":0.268,"N":0.286},
{"b":"R","r":2,"c":6,"v":0.1,"E":0.302},
{"b":"R","r":2,"c":6,"v":0,"E":0.312,"Z":0.255,"S":0.289,"N":0.307},
{"b":"R","r":2,"c":6,"v":-0.1,"E":0.307},
{"b":"R","r":2,"c":6,"v":-0.2,"E":0.286,"Z":0.223,"S":0.26,"N":0.281},
{"b":"R","r":2,"c":6,"v":-0.3,"E":0.262},
{"b":"R","r":2,"c":6,"v":-0.4,"E":0.234,"Z":0.155,"S":0.189,"N":0.215},
{"b":"R","r":2,"c":6,"v":-0.5,"E":0.2},
{"b":"R","r":2,"c":6,"v":-0.6,"E":0.163,"Z":0.084,"S":0.097,"N":0.129},
{"b":"R","r":2,"c":6,"v":-0.7,"E":0.118},
{"b":"R","r":2,"c":6,"v":-0.8,"E":0.071,"Z":0.031,"S":0.039,"N":0.066},
{"b":"R","r":2,"c":6,"v":-0.9,"E":0.031},
{"b":"R","r":2,"c":6,"v":-1,"E":0.005,"Z":0.01,"S":0.013,"N":0.024},
{"b":"R","r":2,"c":6,"v":-1.1,"E":-0.013},
{"b":"R","r":2,"c":6,"v":-1.2,"E":-0.021,"Z":0.005,"S":0.008,"N":0.013},
{"b":"R","r":2,"c":7,"v":1.2,"E":-0.026,"Z":0,"S":0.005,"N":0.01},
{"b":"R","r":2,"c":7,"v":1.1,"E":-0.018},
{"b":"R","r":2,"c":7,"v":1,"E":-0.008,"Z":0.01,"S":0.01,"N":0.026},
{"b":"R","r":2,"c":7,"v":0.9,"E":0.025},
{"b":"R","r":2,"c":7,"v":0.8,"E":0.058,"Z":0.058,"S":0.052,"N":0.079},
{"b":"R","r":2,"c":7,"v":0.7,"E":0.1},
{"b":"R","r":2,"c":7,"v":0.6,"E":0.142,"Z":0.123,"S":0.131,"N":0.15},
{"b":"R","r":2,"c":7,"v":0.5,"E":0.176},
{"b":"R","r":2,"c":7,"v":0.4,"E":0.21,"Z":0.189,"S":0.202,"N":0.215},
{"b":"R","r":2,"c":7,"v":0.3,"E":0.242},
{"b":"R","r":2,"c":7,"v":0.2,"E":0.273,"Z":0.228,"S":0.241,"N":0.262},
{"b":"R","r":2,"c":7,"v":0.1,"E":0.299},
{"b":"R","r":2,"c":7,"v":0,"E":0.307,"Z":0.244,"S":0.262,"N":0.283},
{"b":"R","r":2,"c":7,"v":-0.1,"E":0.299},
{"b":"R","r":2,"c":7,"v":-0.2,"E":0.281,"Z":0.215,"S":0.234,"N":0.257},
{"b":"R","r":2,"c":7,"v":-0.3,"E":0.255},
{"b":"R","r":2,"c":7,"v":-0.4,"E":0.228,"Z":0.15,"S":0.168,"N":0.202},
{"b":"R","r":2,"c":7,"v":-0.5,"E":0.196},
{"b":"R","r":2,"c":7,"v":-0.6,"E":0.163,"Z":0.084,"S":0.089,"N":0.123},
{"b":"R","r":2,"c":7,"v":-0.7,"E":0.123},
{"b":"R","r":2,"c":7,"v":-0.8,"E":0.084,"Z":0.031,"S":0.037,"N":0.058},
{"b":"R","r":2,"c":7,"v":-0.9,"E":0.045},
{"b":"R","r":2,"c":7,"v":-1,"E":0.018,"Z":0.01,"S":0.013,"N":0.024},
{"b":"R","r":2,"c":7,"v":-1.1,"E":0},
{"b":"R","r":2,"c":7,"v":-1.2,"E":-0.008,"Z":0.005,"S":0.005,"N":0.01},
{"b":"R","r":3,"c":4,"v":1.2,"E":-0.031,"Z":0.008,"S":0.016,"N":0.026},
{"b":"R","r":3,"c":4,"v":1.1,"E":-0.037},
{"b":"R","r":3,"c":4,"v":1,"E":-0.018,"Z":0.016,"S":0.021,"N":0.034},
{"b":"R","r":3,"c":4,"v":0.9,"E":0.016},
{"b":"R","r":3,"c":4,"v":0.8,"E":0.087,"Z":0.052,"S":0.073,"N":0.1},
{"b":"R","r":3,"c":4,"v":0.7,"E":0.165},
{"b":"R","r":3,"c":4,"v":0.6,"E":0.244,"Z":0.152,"S":0.192,"N":0.231},
{"b":"R","r":3,"c":4,"v":0.5,"E":0.323},
{"b":"R","r":3,"c":4,"v":0.4,"E":0.4,"Z":0.283,"S":0.336,"N":0.375},
{"b":"R","r":3,"c":4,"v":0.3,"E":0.48},
{"b":"R","r":3,"c":4,"v":0.2,"E":0.546,"Z":0.388,"S":0.446,"N":0.488},
{"b":"R","r":3,"c":4,"v":0.1,"E":0.593},
{"b":"R","r":3,"c":4,"v":0,"E":0.612,"Z":0.428,"S":0.48,"N":0.533},
{"b":"R","r":3,"c":4,"v":-0.1,"E":0.604},
{"b":"R","r":3,"c":4,"v":-0.2,"E":0.572,"Z":0.362,"S":0.42,"N":0.488},
{"b":"R","r":3,"c":4,"v":-0.3,"E":0.525},
{"b":"R","r":3,"c":4,"v":-0.4,"E":0.462,"Z":0.231,"S":0.297,"N":0.383},
{"b":"R","r":3,"c":4,"v":-0.5,"E":0.388},
{"b":"R","r":3,"c":4,"v":-0.6,"E":0.31,"Z":0.126,"S":0.157,"N":0.244},
{"b":"R","r":3,"c":4,"v":-0.7,"E":0.226},
{"b":"R","r":3,"c":4,"v":-0.8,"E":0.139,"Z":0.047,"S":0.06,"N":0.113},
{"b":"R","r":3,"c":4,"v":-0.9,"E":0.06},
{"b":"R","r":3,"c":4,"v":-1,"E":0.008,"Z":0.016,"S":0.021,"N":0.047},
{"b":"R","r":3,"c":4,"v":-1.1,"E":-0.018},
{"b":"R","r":3,"c":4,"v":-1.2,"E":-0.01,"Z":0.008,"S":0.013,"N":0.026},
{"b":"R","r":3,"c":5,"v":1.2,"E":-0.034,"Z":0,"S":0.005,"N":0.01},
{"b":"R","r":3,"c":5,"v":1.1,"E":-0.03},
{"b":"R","r":3,"c":5,"v":1,"E":-0.021,"Z":0.005,"S":0.01,"N":0.021},
{"b":"R","r":3,"c":5,"v":0.9,"E":0.01},
{"b":"R","r":3,"c":5,"v":0.8,"E":0.052,"Z":0.045,"S":0.058,"N":0.071},
{"b":"R","r":3,"c":5,"v":0.7,"E":0.095},
{"b":"R","r":3,"c":5,"v":0.6,"E":0.142,"Z":0.123,"S":0.142,"N":0.163},
{"b":"R","r":3,"c":5,"v":0.5,"E":0.194},
{"b":"R","r":3,"c":5,"v":0.4,"E":0.255,"Z":0.215,"S":0.247,"N":0.268},
{"b":"R","r":3,"c":5,"v":0.3,"E":0.315},
{"b":"R","r":3,"c":5,"v":0.2,"E":0.373,"Z":0.281,"S":0.325,"N":0.36},
{"b":"R","r":3,"c":5,"v":0.1,"E":0.412},
{"b":"R","r":3,"c":5,"v":0,"E":0.425,"Z":0.304,"S":0.357,"N":0.394},
{"b":"R","r":3,"c":5,"v":-0.1,"E":0.42},
{"b":"R","r":3,"c":5,"v":-0.2,"E":0.4,"Z":0.268,"S":0.32,"N":0.357},
{"b":"R","r":3,"c":5,"v":-0.3,"E":0.36},
{"b":"R","r":3,"c":5,"v":-0.4,"E":0.315,"Z":0.184,"S":0.236,"N":0.281},
{"b":"R","r":3,"c":5,"v":-0.5,"E":0.255},
{"b":"R","r":3,"c":5,"v":-0.6,"E":0.189,"Z":0.097,"S":0.131,"N":0.176},
{"b":"R","r":3,"c":5,"v":-0.7,"E":0.123},
{"b":"R","r":3,"c":5,"v":-0.8,"E":0.058,"Z":0.031,"S":0.052,"N":0.084},
{"b":"R","r":3,"c":5,"v":-0.9,"E":0.018},
{"b":"R","r":3,"c":5,"v":-1,"E":-0.008,"Z":0.008,"S":0.016,"N":0.031},
{"b":"R","r":3,"c":5,"v":-1.1,"E":-0.021},
{"b":"R","r":3,"c":5,"v":-1.2,"E":-0.016,"Z":0.005,"S":0.008,"N":0.018},
{"b":"R","r":3,"c":6,"v":1.2,"E":-0.034,"Z":0,"S":0.005,"N":0.013},
{"b":"R","r":3,"c":6,"v":1.1,"E":-0.025},
{"b":"R","r":3,"c":6,"v":1,"E":-0.013,"Z":0.008,"S":0.013,"N":0.024},
{"b":"R","r":3,"c":6,"v":0.9,"E":0.015},
{"b":"R","r":3,"c":6,"v":0.8,"E":0.045,"Z":0.05,"S":0.066,"N":0.076},
{"b":"R","r":3,"c":6,"v":0.7,"E":0.085},
{"b":"R","r":3,"c":6,"v":0.6,"E":0.129,"Z":0.11,"S":0.15,"N":0.163},
{"b":"R","r":3,"c":6,"v":0.5,"E":0.172},
{"b":"R","r":3,"c":6,"v":0.4,"E":0.215,"Z":0.189,"S":0.234,"N":0.249},
{"b":"R","r":3,"c":6,"v":0.3,"E":0.255},
{"b":"R","r":3,"c":6,"v":0.2,"E":0.294,"Z":0.26,"S":0.302,"N":0.32},
{"b":"R","r":3,"c":6,"v":0.1,"E":0.328},
{"b":"R","r":3,"c":6,"v":0,"E":0.339,"Z":0.294,"S":0.328,"N":0.346},
{"b":"R","r":3,"c":6,"v":-0.1,"E":0.333},
{"b":"R","r":3,"c":6,"v":-0.2,"E":0.312,"Z":0.26,"S":0.294,"N":0.312},
{"b":"R","r":3,"c":6,"v":-0.3,"E":0.282},
{"b":"R","r":3,"c":6,"v":-0.4,"E":0.249,"Z":0.189,"S":0.223,"N":0.241},
{"b":"R","r":3,"c":6,"v":-0.5,"E":0.208},
{"b":"R","r":3,"c":6,"v":-0.6,"E":0.163,"Z":0.097,"S":0.129,"N":0.144},
{"b":"R","r":3,"c":6,"v":-0.7,"E":0.118},
{"b":"R","r":3,"c":6,"v":-0.8,"E":0.071,"Z":0.031,"S":0.055,"N":0.071},
{"b":"R","r":3,"c":6,"v":-0.9,"E":0.031},
{"b":"R","r":3,"c":6,"v":-1,"E":0.005,"Z":0.005,"S":0.018,"N":0.029},
{"b":"R","r":3,"c":6,"v":-1.1,"E":-0.008},
{"b":"R","r":3,"c":6,"v":-1.2,"E":-0.013,"Z":0.003,"S":0.008,"N":0.013},
{"b":"R","r":3,"c":7,"v":1.2,"E":-0.034,"Z":0,"S":0.005,"N":0.01},
{"b":"R","r":3,"c":7,"v":1.1,"E":-0.02},
{"b":"R","r":3,"c":7,"v":1,"E":0,"Z":0.005,"S":0.01,"N":0.026},
{"b":"R","r":3,"c":7,"v":0.9,"E":0.028},
{"b":"R","r":3,"c":7,"v":0.8,"E":0.058,"Z":0.045,"S":0.063,"N":0.079},
{"b":"R","r":3,"c":7,"v":0.7,"E":0.097},
{"b":"R","r":3,"c":7,"v":0.6,"E":0.136,"Z":0.11,"S":0.142,"N":0.157},
{"b":"R","r":3,"c":7,"v":0.5,"E":0.173},
{"b":"R","r":3,"c":7,"v":0.4,"E":0.21,"Z":0.189,"S":0.22,"N":0.236},
{"b":"R","r":3,"c":7,"v":0.3,"E":0.242},
{"b":"R","r":3,"c":7,"v":0.2,"E":0.273,"Z":0.241,"S":0.281,"N":0.294},
{"b":"R","r":3,"c":7,"v":0.1,"E":0.299},
{"b":"R","r":3,"c":7,"v":0,"E":0.307,"Z":0.262,"S":0.307,"N":0.318},
{"b":"R","r":3,"c":7,"v":-0.1,"E":0.302},
{"b":"R","r":3,"c":7,"v":-0.2,"E":0.281,"Z":0.228,"S":0.273,"N":0.289},
{"b":"R","r":3,"c":7,"v":-0.3,"E":0.255},
{"b":"R","r":3,"c":7,"v":-0.4,"E":0.228,"Z":0.157,"S":0.21,"N":0.228},
{"b":"R","r":3,"c":7,"v":-0.5,"E":0.19},
{"b":"R","r":3,"c":7,"v":-0.6,"E":0.15,"Z":0.084,"S":0.123,"N":0.15},
{"b":"R","r":3,"c":7,"v":-0.7,"E":0.11},
{"b":"R","r":3,"c":7,"v":-0.8,"E":0.071,"Z":0.031,"S":0.052,"N":0.071},
{"b":"R","r":3,"c":7,"v":-0.9,"E":0.045},
{"b":"R","r":3,"c":7,"v":-1,"E":0.018,"Z":0.01,"S":0.018,"N":0.031},
{"b":"R","r":3,"c":7,"v":-1.1,"E":0},
{"b":"R","r":3,"c":7,"v":-1.2,"E":-0.008,"Z":0.005,"S":0.01,"N":0.018},
{"b":"R","r":4,"c":4,"v":1.2,"E":0.005,"Z":0.01,"S":0.015,"N":0.02},
{"b":"R","r":4,"c":4,"v":1.1,"E":0},
{"b":"R","r":4,"c":4,"v":1,"E":0,"Z":0.01,"S":0.015,"N":0.02},
{"b":"R","r":4,"c":4,"v":0.9,"E":0.01},
{"b":"R","r":4,"c":4,"v":0.8,"E":0.04,"Z":0.03,"S":0.05,"N":0.06},
{"b":"R","r":4,"c":4,"v":0.7,"E":0.09},
{"b":"R","r":4,"c":4,"v":0.6,"E":0.15,"Z":0.13,"S":0.16,"N":0.17},
{"b":"R","r":4,"c":4,"v":0.5,"E":0.23},
{"b":"R","r":4,"c":4,"v":0.4,"E":0.32,"Z":0.29,"S":0.33,"N":0.34},
{"b":"R","r":4,"c":4,"v":0.3,"E":0.41},
{"b":"R","r":4,"c":4,"v":0.2,"E":0.5,"Z":0.43,"S":0.48,"N":0.5},
{"b":"R","r":4,"c":4,"v":0.1,"E":0.57},
{"b":"R","r":4,"c":4,"v":0,"E":0.6,"Z":0.47,"S":0.53,"N":0.55},
{"b":"R","r":4,"c":4,"v":-0.1,"E":0.58},
{"b":"R","r":4,"c":4,"v":-0.2,"E":0.52,"Z":0.42,"S":0.48,"N":0.5},
{"b":"R","r":4,"c":4,"v":-0.3,"E":0.45},
{"b":"R","r":4,"c":4,"v":-0.4,"E":0.33,"Z":0.28,"S":0.33,"N":0.35},
{"b":"R","r":4,"c":4,"v":-0.5,"E":0.26},
{"b":"R","r":4,"c":4,"v":-0.6,"E":0.2,"Z":0.12,"S":0.16,"N":0.18},
{"b":"R","r":4,"c":4,"v":-0.7,"E":0.13},
{"b":"R","r":4,"c":4,"v":-0.8,"E":0.07,"Z":0.03,"S":0.05,"N":0.06},
{"b":"R","r":4,"c":4,"v":-0.9,"E":0.04},
{"b":"R","r":4,"c":4,"v":-1,"E":0.02,"Z":0.01,"S":0.015,"N":0.02},
{"b":"R","r":4,"c":4,"v":-1.1,"E":0.01},
{"b":"R","r":4,"c":4,"v":-1.2,"E":0.01,"Z":0,"S":0.01,"N":0.01},
{"b":"R","r":4,"c":5,"v":1.2,"E":-0.008,"Z":0,"S":0.003,"N":0.005},
{"b":"R","r":4,"c":5,"v":1.1,"E":-0.005},
{"b":"R","r":4,"c":5,"v":1,"E":0,"Z":0.008,"S":0.01,"N":0.013},
{"b":"R","r":4,"c":5,"v":0.9,"E":0.018},
{"b":"R","r":4,"c":5,"v":0.8,"E":0.058,"Z":0.039,"S":0.05,"N":0.058},
{"b":"R","r":4,"c":5,"v":0.7,"E":0.12},
{"b":"R","r":4,"c":5,"v":0.6,"E":0.189,"Z":0.123,"S":0.155,"N":0.163},
{"b":"R","r":4,"c":5,"v":0.5,"E":0.281},
{"b":"R","r":4,"c":5,"v":0.4,"E":0.36,"Z":0.255,"S":0.294,"N":0.307},
{"b":"R","r":4,"c":5,"v":0.3,"E":0.425},
{"b":"R","r":4,"c":5,"v":0.2,"E":0.478,"Z":0.354,"S":0.399,"N":0.417},
{"b":"R","r":4,"c":5,"v":0.1,"E":0.509},
{"b":"R","r":4,"c":5,"v":0,"E":0.517,"Z":0.386,"S":0.444,"N":0.465},
{"b":"R","r":4,"c":5,"v":-0.1,"E":0.504},
{"b":"R","r":4,"c":5,"v":-0.2,"E":0.478,"Z":0.333,"S":0.399,"N":0.417},
{"b":"R","r":4,"c":5,"v":-0.3,"E":0.425},
{"b":"R","r":4,"c":5,"v":-0.4,"E":0.36,"Z":0.215,"S":0.286,"N":0.307},
{"b":"R","r":4,"c":5,"v":-0.5,"E":0.281},
{"b":"R","r":4,"c":5,"v":-0.6,"E":0.202,"Z":0.097,"S":0.163,"N":0.176},
{"b":"R","r":4,"c":5,"v":-0.7,"E":0.123},
{"b":"R","r":4,"c":5,"v":-0.8,"E":0.071,"Z":0.031,"S":0.071,"N":0.084},
{"b":"R","r":4,"c":5,"v":-0.9,"E":0.031},
{"b":"R","r":4,"c":5,"v":-1,"E":0.013,"Z":0.008,"S":0.024,"N":0.026},
{"b":"R","r":4,"c":5,"v":-1.1,"E":0.005},
{"b":"R","r":4,"c":5,"v":-1.2,"E":0.013,"Z":0.003,"S":0.01,"N":0.013},
{"b":"R","r":4,"c":6,"v":1.2,"E":0,"Z":0,"S":0.003,"N":0.005},
{"b":"R","r":4,"c":6,"v":1.1,"E":0.005},
{"b":"R","r":4,"c":6,"v":1,"E":0.01,"Z":0.005,"S":0.01,"N":0.016},
{"b":"R","r":4,"c":6,"v":0.9,"E":0.025},
{"b":"R","r":4,"c":6,"v":0.8,"E":0.05,"Z":0.042,"S":0.052,"N":0.063},
{"b":"R","r":4,"c":6,"v":0.7,"E":0.08},
{"b":"R","r":4,"c":6,"v":0.6,"E":0.115,"Z":0.102,"S":0.128,"N":0.142},
{"b":"R","r":4,"c":6,"v":0.5,"E":0.168},
{"b":"R","r":4,"c":6,"v":0.4,"E":0.234,"Z":0.207,"S":0.241,"N":0.26},
{"b":"R","r":4,"c":6,"v":0.3,"E":0.3},
{"b":"R","r":4,"c":6,"v":0.2,"E":0.365,"Z":0.304,"S":0.346,"N":0.365},
{"b":"R","r":4,"c":6,"v":0.1,"E":0.404},
{"b":"R","r":4,"c":6,"v":0,"E":0.425,"Z":0.339,"S":0.394,"N":0.41},
{"b":"R","r":4,"c":6,"v":-0.1,"E":0.417},
{"b":"R","r":4,"c":6,"v":-0.2,"E":0.391,"Z":0.294,"S":0.352,"N":0.365},
{"b":"R","r":4,"c":6,"v":-0.3,"E":0.352},
{"b":"R","r":4,"c":6,"v":-0.4,"E":0.3,"Z":0.194,"S":0.26,"N":0.273},
{"b":"R","r":4,"c":6,"v":-0.5,"E":0.234},
{"b":"R","r":4,"c":6,"v":-0.6,"E":0.168,"Z":0.089,"S":0.155,"N":0.168},
{"b":"R","r":4,"c":6,"v":-0.7,"E":0.115},
{"b":"R","r":4,"c":6,"v":-0.8,"E":0.068,"Z":0.031,"S":0.063,"N":0.076},
{"b":"R","r":4,"c":6,"v":-0.9,"E":0.037},
{"b":"R","r":4,"c":6,"v":-1,"E":0.016,"Z":0.008,"S":0.018,"N":0.024},
{"b":"R","r":4,"c":6,"v":-1.1,"E":0.01},
{"b":"R","r":4,"c":6,"v":-1.2,"E":0.01,"Z":0.003,"S":0.005,"N":0.01},
{"b":"R","r":4,"c":7,"v":1.2,"E":0,"Z":0,"S":0.003,"N":0.005},
{"b":"R","r":4,"c":7,"v":1.1,"E":0.005},
{"b":"R","r":4,"c":7,"v":1,"E":0.013,"Z":0.008,"S":0.01,"N":0.016},
{"b":"R","r":4,"c":7,"v":0.9,"E":0.03},
{"b":"R","r":4,"c":7,"v":0.8,"E":0.052,"Z":0.045,"S":0.052,"N":0.058},
{"b":"R","r":4,"c":7,"v":0.7,"E":0.08},
{"b":"R","r":4,"c":7,"v":0.6,"E":0.11,"Z":0.105,"S":0.121,"N":0.131},
{"b":"R","r":4,"c":7,"v":0.5,"E":0.157},
{"b":"R","r":4,"c":7,"v":0.4,"E":0.21,"Z":0.184,"S":0.21,"N":0.223},
{"b":"R","r":4,"c":7,"v":0.3,"E":0.262},
{"b":"R","r":4,"c":7,"v":0.2,"E":0.315,"Z":0.268,"S":0.302,"N":0.315},
{"b":"R","r":4,"c":7,"v":0.1,"E":0.354},
{"b":"R","r":4,"c":7,"v":0,"E":0.373,"Z":0.31,"S":0.346,"N":0.367},
{"b":"R","r":4,"c":7,"v":-0.1,"E":0.367},
{"b":"R","r":4,"c":7,"v":-0.2,"E":0.346,"Z":0.262,"S":0.304,"N":0.32},
{"b":"R","r":4,"c":7,"v":-0.3,"E":0.315},
{"b":"R","r":4,"c":7,"v":-0.4,"E":0.276,"Z":0.178,"S":0.223,"N":0.236},
{"b":"R","r":4,"c":7,"v":-0.5,"E":0.223},
{"b":"R","r":4,"c":7,"v":-0.6,"E":0.171,"Z":0.092,"S":0.131,"N":0.144},
{"b":"R","r":4,"c":7,"v":-0.7,"E":0.11},
{"b":"R","r":4,"c":7,"v":-0.8,"E":0.066,"Z":0.031,"S":0.058,"N":0.066},
{"b":"R","r":4,"c":7,"v":-0.9,"E":0.039},
{"b":"R","r":4,"c":7,"v":-1,"E":0.021,"Z":0.008,"S":0.016,"N":0.021},
{"b":"R","r":4,"c":7,"v":-1.1,"E":0.016},
{"b":"R","r":4,"c":7,"v":-1.2,"E":0.016,"Z":0.003,"S":0.005,"N":0.01}
]},
"resolve":{"scale":{"y":"independent"}},
"spacing":0,
"hconcat":[
{
 "transform":[{"filter":"datum.b=='L'"}],
 "facet":{
  "row":{"field":"r","type":"ordinal","header":{"labels":false,"title":null}},
  "column":{"field":"c","type":"ordinal","header":{"title":null,"labelExpr":"'x/D\u2002=\u2002'+datum.value","labelFont":"Liberation Serif","labelFontStyle":"italic","labelFontSize":20,"labelColor":"#000","labelPadding":5}}
 },
 "bounds":"flush",
 "spacing":{"row":11.7,"column":0},
 "spec":{"width":101.5,"height":168,
  "layer":[
   {"transform":[{"fold":["E"],"as":["key","val"]},{"filter":"isValid(datum.val)"}],
    "mark":{"type":"point","filled":false,"strokeWidth":1.5,"size":400,"opacity":1},
    "encoding":{
     "x":{"field":"val","type":"quantitative","scale":{"domain":[-0.1,0.7],"nice":false,"zero":false},"axis":{"values":[0,0.3,0.6],"title":"ΔU/Uₕ","labelExpr":"''+datum.value"}},
     "y":{"field":"v","type":"quantitative","scale":{"domain":[-0.7,1.25],"nice":false,"zero":false},"axis":{"values":[-0.5,0,0.5,1],"title":"(z − zΔUₘₐₓ)/D","labelExpr":"''+datum.value","labelPadding":15,"titlePadding":8}},
     "color":{"field":"key","type":"nominal","scale":{"domain":["E","Z","S","N"],"range":["#000000","#0000ff","#00e000","#ff0000"]},"legend":{"title":null,"labelExpr":"datum.label=='E'?'Experiments':datum.label=='Z'?'ZPG':datum.label=='S'?'PG-SPA':'PG-New'"}},
     "shape":{"field":"key","type":"nominal","scale":{"domain":["E","Z","S","N"],"range":["M-0.44,0A0.44,0.44 0 1,1 0.44,0A0.44,0.44 0 1,1 -0.44,0Z","M-1.75,0L1.75,0","M-1.75,0L1.75,0","M-1.75,0L1.75,0"]},"legend":{"title":null,"labelExpr":"datum.label=='E'?'Experiments':datum.label=='Z'?'ZPG':datum.label=='S'?'PG-SPA':'PG-New'"}}
    }},
   {"transform":[{"fold":["Z","S","N"],"as":["key","val"]},{"filter":"isValid(datum.val)"}],
    "mark":{"type":"line","strokeWidth":2.2,"interpolate":"catmull-rom"},
    "encoding":{
     "x":{"field":"val","type":"quantitative"},
     "y":{"field":"v","type":"quantitative"},
     "order":{"field":"v","type":"quantitative"},
     "color":{"field":"key","type":"nominal"},
     "strokeDash":{"field":"key","type":"nominal","scale":{"domain":["E","Z","S","N"],"range":[[1,0],[9,5],[7,3,2,3],[1,0]]},"legend":{"title":null,"labelExpr":"datum.label=='E'?'Experiments':datum.label=='Z'?'ZPG':datum.label=='S'?'PG-SPA':'PG-New'"}}
    }},
   {"transform":[{"filter":"isValid(datum.lab)"}],
    "mark":{"type":"text","align":"right","baseline":"middle","font":"Liberation Sans","fontSize":18.5,"color":"#000"},
    "encoding":{"x":{"datum":0.63},"y":{"datum":1.02},"text":{"field":"lab"}}}
  ]}
},
{
 "transform":[{"filter":"datum.b=='R'"}],
 "facet":{
  "row":{"field":"r","type":"ordinal","header":{"labels":false,"title":null}},
  "column":{"field":"c","type":"ordinal","header":{"title":null,"labelExpr":"'x/D\u2002=\u2002'+datum.value","labelFont":"Liberation Serif","labelFontStyle":"italic","labelFontSize":20,"labelColor":"#000","labelPadding":5}}
 },
 "bounds":"flush",
 "spacing":{"row":11.7,"column":0},
 "spec":{"width":101.5,"height":168,
  "layer":[
   {"transform":[{"fold":["E"],"as":["key","val"]},{"filter":"isValid(datum.val)"}],
    "mark":{"type":"point","filled":false,"strokeWidth":1.5,"size":400,"opacity":1},
    "encoding":{
     "x":{"field":"val","type":"quantitative","scale":{"domain":[-0.1,0.7],"nice":false,"zero":false},"axis":{"values":[0,0.3,0.6],"title":"ΔU/Uₕ","labelExpr":"''+datum.value"}},
     "y":{"field":"v","type":"quantitative","scale":{"domain":[-1.28,1.28],"nice":false,"zero":false},"axis":{"values":[-1,0,1],"title":"(y − yΔUₘₐₓ)/D","labelExpr":"''+datum.value","labelPadding":12,"titlePadding":10}},
     "color":{"field":"key","type":"nominal","scale":{"domain":["E","Z","S","N"],"range":["#000000","#0000ff","#00e000","#ff0000"]},"legend":{"title":null,"labelExpr":"datum.label=='E'?'Experiments':datum.label=='Z'?'ZPG':datum.label=='S'?'PG-SPA':'PG-New'"}},
     "shape":{"field":"key","type":"nominal","scale":{"domain":["E","Z","S","N"],"range":["M-0.44,0A0.44,0.44 0 1,1 0.44,0A0.44,0.44 0 1,1 -0.44,0Z","M-1.75,0L1.75,0","M-1.75,0L1.75,0","M-1.75,0L1.75,0"]},"legend":{"title":null,"labelExpr":"datum.label=='E'?'Experiments':datum.label=='Z'?'ZPG':datum.label=='S'?'PG-SPA':'PG-New'"}}
    }},
   {"transform":[{"fold":["Z","S","N"],"as":["key","val"]},{"filter":"isValid(datum.val)"}],
    "mark":{"type":"line","strokeWidth":2.2,"interpolate":"catmull-rom"},
    "encoding":{
     "x":{"field":"val","type":"quantitative"},
     "y":{"field":"v","type":"quantitative"},
     "order":{"field":"v","type":"quantitative"},
     "color":{"field":"key","type":"nominal"},
     "strokeDash":{"field":"key","type":"nominal","scale":{"domain":["E","Z","S","N"],"range":[[1,0],[9,5],[7,3,2,3],[1,0]]},"legend":{"title":null,"labelExpr":"datum.label=='E'?'Experiments':datum.label=='Z'?'ZPG':datum.label=='S'?'PG-SPA':'PG-New'"}}
    }}
  ]}
}
]
}
